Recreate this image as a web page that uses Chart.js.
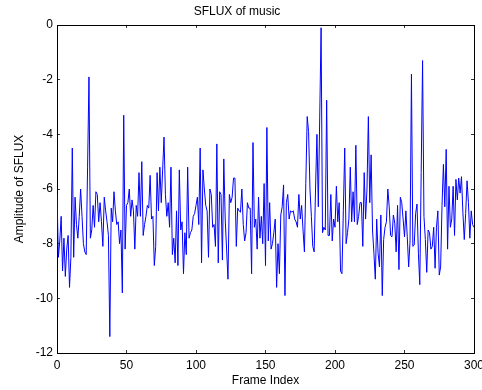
<!DOCTYPE html>
<html>
<head>
<meta charset="utf-8">
<script src="https://cdn.jsdelivr.net/npm/chart.js@4/dist/chart.umd.min.js"></script>
<style>
  html, body { margin: 0; padding: 0; background: #fff; }
  canvas { display: block; }
</style>
</head>
<body>
<canvas id="sfluxChart" width="482" height="390"></canvas>
<script>
// valores, un valor por frame (0..300)
var sflux = [
  -6.2, -8.5, -7.9, -7.0, -9.0, -7.8, -9.2, -8.2, -7.7, -9.6,
  -8.5, -4.5, -8.5, -6.3, -7.3, -7.8, -7.0, -6.0, -7.0, -8.0,
  -8.3, -8.4, -5.2, -1.9, -7.8, -7.5, -6.6, -7.4, -6.1, -6.2,
  -7.2, -6.5, -7.2, -8.1, -6.3, -6.8, -7.2, -7.7, -11.4, -6.7,
  -7.2, -6.1, -6.8, -7.3, -7.2, -8.0, -7.5, -9.8, -3.3, -8.2,
  -6.6, -6.5, -6.0, -7.0, -6.4, -6.8, -8.2, -6.6, -7.0, -5.4,
  -7.0, -5.0, -7.7, -7.3, -7.0, -6.6, -6.7, -5.5, -7.1, -7.0,
  -8.8, -8.1, -5.4, -6.8, -5.2, -6.5, -5.3, -4.1, -6.2, -7.0,
  -6.5, -7.4, -5.2, -8.4, -7.8, -8.7, -6.8, -8.8, -5.3, -7.5,
  -7.2, -9.1, -7.6, -8.4, -5.2, -7.8, -7.6, -7.5, -7.0, -6.9,
  -6.6, -6.3, -7.3, -4.5, -8.7, -5.3, -6.0, -6.6, -6.8, -8.5,
  -6.0, -6.2, -7.4, -7.3, -8.1, -4.35, -8.7, -6.1, -6.2, -8.6,
  -4.9, -7.1, -8.2, -9.3, -6.2, -6.5, -6.3, -5.6, -5.6, -8.1,
  -6.7, -6.8, -6.85, -6.0, -7.3, -7.9, -7.6, -6.5, -6.7, -6.7,
  -9.1, -4.3, -7.4, -7.1, -8.2, -6.3, -7.8, -7.0, -8.0, -5.8,
  -8.8, -3.75, -7.9, -6.5, -8.2, -8.0, -7.6, -7.1, -9.6, -8.0,
  -9.1, -6.95, -6.65, -5.85, -9.9, -6.5, -6.2, -7.1, -6.8, -6.85,
  -6.8, -7.1, -7.2, -7.4, -6.2, -7.1, -6.6, -7.5, -8.3, -5.8,
  -3.35, -3.9, -6.0, -7.0, -8.1, -8.3, -6.0, -4.0, -6.65, -3.4,
  -0.1, -7.6, -7.4, -7.5, -2.75, -7.7, -7.7, -6.2, -7.9, -7.1,
  -7.4, -5.9, -7.2, -6.5, -9.0, -9.1, -6.8, -4.5, -8.0, -7.6,
  -7.1, -5.2, -7.2, -6.1, -7.2, -4.4, -7.3, -7.0, -6.5, -6.5,
  -8.1, -5.4, -7.1, -6.0, -3.35, -6.5, -4.75, -7.5, -8.35, -9.3,
  -7.1, -8.35, -8.85, -6.95, -9.9, -7.85, -7.4, -7.2, -6.0, -6.65,
  -7.7, -7.75, -6.95, -7.25, -8.3, -6.6, -8.95, -6.3, -6.5, -7.1,
  -7.75, -6.8, -7.75, -8.85, -7.9, -1.8, -8.1, -8.05, -6.9, -6.55,
  -8.35, -9.5, -5.4, -1.3, -7.0, -7.85, -9.05, -7.5, -7.6, -8.2,
  -8.1, -7.4, -8.9, -7.4, -6.8, -9.15, -8.85, -6.6, -5.1, -6.65,
  -4.55, -8.2, -5.9, -7.4, -7.1, -5.9, -7.7, -5.65, -6.4, -5.6,
  -6.15, -5.55, -6.85, -7.85, -6.9, -5.7, -6.5, -7.8, -6.8, -7.3,
  -7.4
];

var xTicks = [0, 50, 100, 150, 200, 250, 300];
var yTicks = [-12, -10, -8, -6, -4, -2, 0];

var puntos = sflux.map(function(v, i) { return { x: i, y: v }; });

var fuente = { family: "Arial, 'Liberation Sans', sans-serif", size: 12 };

// ticks hacia adentro (tickLength negativo), caja con ejes extra arriba y a la derecha
var gridMatlab = { display: true, drawOnChartArea: false, drawTicks: true, tickLength: -3, color: '#333' };
var bordeMatlab = { display: true, color: '#000', width: 1 };

function ticksX(scale) { scale.ticks = xTicks.map(function(v) { return { value: v }; }); }
function ticksY(scale) { scale.ticks = yTicks.map(function(v) { return { value: v }; }); }

var lineChart = new Chart(document.getElementById('sfluxChart'), {
  type: 'line',
  data: {
    datasets: [
      {
        label: 'SFLUX',
        data: puntos,
        xAxisID: 'x',
        yAxisID: 'y',
        borderColor: '#0000ff',
        borderWidth: 1,
        pointRadius: 0,
        fill: false,
        tension: 0
      }
    ]
  },
  options: {
    responsive: false,
    animation: false,
    devicePixelRatio: 1,
    layout: { padding: { left: 0, right: 8, top: 0, bottom: 0 } },
    plugins: {
      legend: { display: false },
      tooltip: { enabled: false },
      title: {
        display: true,
        text: 'SFLUX of music',
        color: '#000',
        font: { family: fuente.family, size: 12, weight: 'normal' },
        padding: { top: 4, bottom: 6.6 }
      }
    },
    scales: {
      x: {
        type: 'linear',
        position: 'bottom',
        min: 0,
        max: 300,
        afterBuildTicks: ticksX,
        afterFit: function(scale) {
          scale.height = 37;
          scale.paddingLeft = 0;
          scale.paddingRight = 0;
        },
        grid: gridMatlab,
        border: bordeMatlab,
        ticks: { color: '#000', font: fuente, padding: 8, maxRotation: 0 },
        title: {
          display: true,
          text: 'Frame Index',
          color: '#000',
          font: fuente,
          padding: { top: 0, bottom: 1.8 }
        }
      },
      x2: {
        type: 'linear',
        position: 'top',
        min: 0,
        max: 300,
        afterBuildTicks: ticksX,
        afterFit: function(scale) {
          scale.height = 0;
          scale.paddingLeft = 0;
          scale.paddingRight = 0;
        },
        grid: gridMatlab,
        border: bordeMatlab,
        ticks: { display: false }
      },
      y: {
        type: 'linear',
        position: 'left',
        min: -12,
        max: 0,
        afterBuildTicks: ticksY,
        afterFit: function(scale) {
          scale.width = 57;
          scale.paddingTop = 0;
          scale.paddingBottom = 0;
        },
        grid: gridMatlab,
        border: bordeMatlab,
        ticks: { color: '#000', font: fuente, padding: 7 },
        title: {
          display: true,
          text: 'Amplitude of SFLUX',
          color: '#000',
          font: fuente,
          padding: { top: 12.8, bottom: 0 }
        }
      },
      y2: {
        type: 'linear',
        position: 'right',
        min: -12,
        max: 0,
        afterBuildTicks: ticksY,
        afterFit: function(scale) {
          scale.width = 0;
          scale.paddingTop = 0;
          scale.paddingBottom = 0;
        },
        grid: gridMatlab,
        border: bordeMatlab,
        ticks: { display: false }
      }
    }
  }
});
</script>
</body>
</html>
